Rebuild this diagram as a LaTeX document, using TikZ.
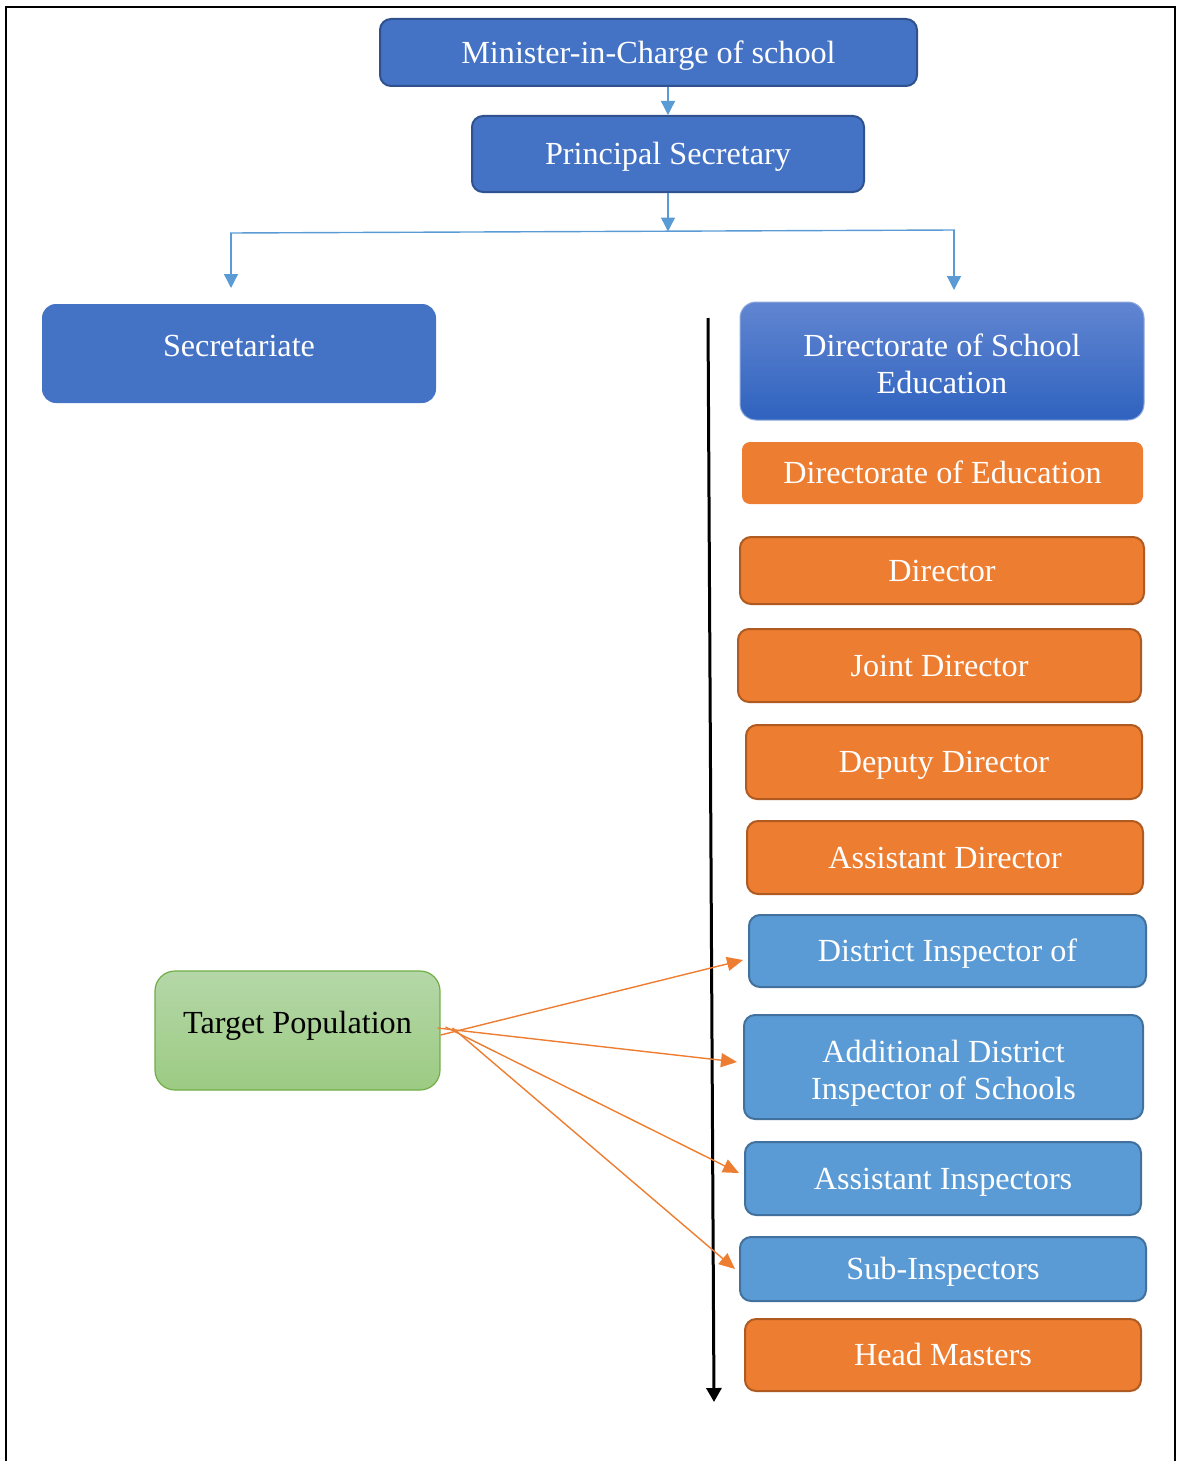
\documentclass[tikz,border=0pt]{standalone}
\usepackage{fontspec}
\setmainfont{Liberation Serif}
\usetikzlibrary{arrows.meta,calc}

\definecolor{navy}{HTML}{4472C4}
\definecolor{navyline}{HTML}{2F528F}
\definecolor{dsetop}{HTML}{6185D1}
\definecolor{dsebottom}{HTML}{2F63BF}
\definecolor{dseline}{HTML}{8FAADC}
\definecolor{sky}{HTML}{5B9BD5}
\definecolor{skyline}{HTML}{41719C}
\definecolor{amber}{HTML}{ED7D31}
\definecolor{amberline}{HTML}{AE5A21}
\definecolor{leaftop}{HTML}{B5D7A8}
\definecolor{leafbottom}{HTML}{9CCB83}
\definecolor{leafline}{HTML}{70AD47}

\tikzset{
  boxfont/.style={font=\fontsize{32.2}{37}\selectfont, text=white, align=center, inner sep=0pt},
  box/.style={boxfont, rounded corners=11pt, line width=2pt},
  oneline/.style={text height=0.66em+15pt, text depth=0pt},
  raised/.style={text height=0.66em, text depth=0pt},
  navybox/.style={box, oneline, fill=navy, draw=navyline},
  skybox/.style={box, oneline, fill=sky, draw=skyline},
  amberbox/.style={box, oneline, fill=amber, draw=amberline},
  link/.style={draw=sky, line width=1.4pt, -{Triangle[width=14pt,length=14pt]}},
  feed/.style={draw=amber, line width=1.4pt, -{Triangle[width=14pt,length=16pt]}},
  flow/.style={draw=black, line width=3pt, -{Triangle[width=15pt,length=14pt]}},
}

\begin{document}
\begin{tikzpicture}[x=1pt, y=-1pt]
\useasboundingbox (0,0) rectangle (1179,1461);

% open page frame
\draw[line width=2.5pt] (6,1461) -- (6,7) -- (1175,7) -- (1175,1461);

% top of the hierarchy
\node[navybox, minimum width=537, minimum height=67] (min) at (648.5,52.5) {Minister-in-Charge of school};
\node[navybox, minimum width=392, minimum height=76] (ps) at (668,154) {Principal Secretary};

% two branches
\node[box, raised, fill=navy, draw=none, rounded corners=14pt,
      minimum width=394, minimum height=99] (sec) at (239,353.5) {Secretariate};
\node[box, top color=dsetop, bottom color=dsebottom, draw=dseline, line width=1pt, rounded corners=16pt,
      minimum width=404, minimum height=118] (dse) at (942,361) {};
\node[boxfont] (dsetext) at ($(dse.center)+(0,3)$) {Directorate of School\\Education};

% directorate chain
\node[amberbox, draw=none, rounded corners=8pt, minimum width=401, minimum height=62] (doe) at (942.5,473) {Directorate of Education};
\node[amberbox, minimum width=404, minimum height=67] (dir) at (942,570.5) {Director};
\node[amberbox, minimum width=403, minimum height=73] (jd) at (939.5,665.5) {Joint Director};
\node[amberbox, minimum width=396, minimum height=74] (dd) at (944,762) {Deputy Director};
\node[amberbox, minimum width=396, minimum height=73] (ad) at (945,857.5) {Assistant Director};
\node[skybox, minimum width=397, minimum height=72] (di) at (947.5,951) {District Inspector of};
\node[box, fill=sky, draw=skyline, minimum width=399, minimum height=104] (adi) at (943.5,1067) {};
\node[boxfont] (aditext) at ($(adi.center)+(0,6)$) {Additional District\\Inspector of Schools};
\node[skybox, minimum width=396, minimum height=73] (ai) at (943,1178.5) {Assistant Inspectors};
\node[skybox, minimum width=406, minimum height=64] (si) at (943,1269) {Sub-Inspectors};
\node[amberbox, minimum width=396, minimum height=72] (hm) at (943,1355) {Head Masters};

% target group
\node[box, raised, text=black, top color=leaftop, bottom color=leafbottom, draw=leafline, line width=1.2pt,
      rounded corners=20pt, minimum width=285, minimum height=119] (tp) at (297.5,1030.5) {Target Population};

% blue connectors
\coordinate (hl) at (230,233);
\coordinate (hr) at (955,230);
\coordinate (hmid) at (668,231.5);
\coordinate (secTip) at (231,288);
\coordinate (dseTip) at (954,290);
\draw[link] (ps.north |- min.south) -- (ps.north);
\draw[link] (ps.south) -- (hmid);
\draw[draw=sky, line width=1.4pt] (hl) -- (hr);
\draw[link] (hl -| secTip) -- (secTip);
\draw[link] (hr -| dseTip) -- (dseTip);

% black flow arrow
\coordinate (flowTop) at (708,318);
\coordinate (flowEnd) at (714,1402);
\draw[flow] (flowTop) -- (flowEnd);

% orange arrows from the target group
\draw[feed] ($(tp.east)+(0,4.5)$)  -- ($(di.west)+(-5,9)$);
\draw[feed] ($(tp.east)+(-3,-2.5)$) -- ($(adi.west)+(-6,-5)$);
\draw[feed] ($(tp.east)+(5,-3.5)$)  -- ($(ai.west)+(-5,-5.5)$);
\draw[feed] ($(tp.east)+(12,-2.5)$) -- ($(si.west)+(-4,0)$);
\end{tikzpicture}
\end{document}
